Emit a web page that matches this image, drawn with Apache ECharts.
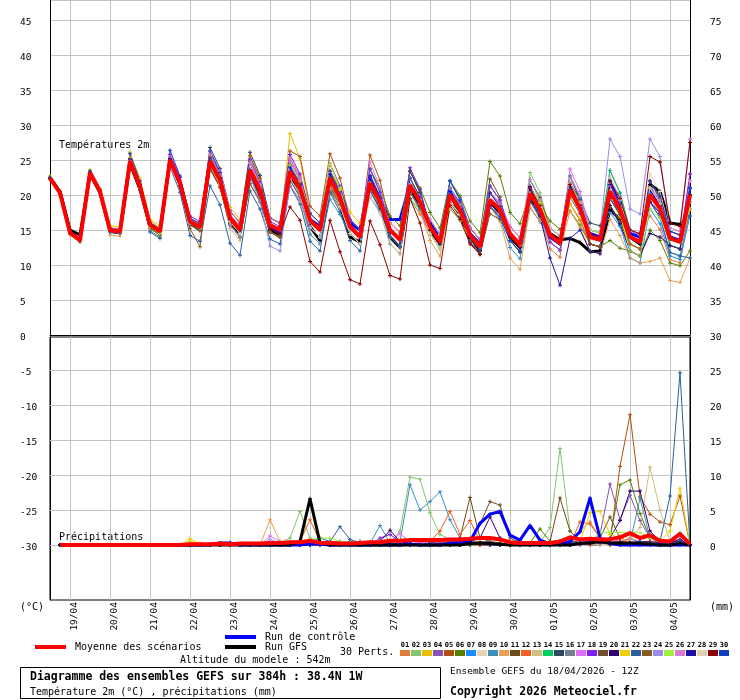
<!DOCTYPE html>
<html><head><meta charset="utf-8">
<script src="https://cdn.jsdelivr.net/npm/echarts@6/dist/echarts.min.js"></script>
<style>html,body{margin:0;padding:0;background:#fff}#c{width:740px;height:700px}</style>
</head><body><div id="c"></div>
<script>
// ---- time axis ----
const days = ['18/04','19/04','20/04','21/04','22/04','23/04','24/04','25/04','26/04','27/04','28/04','29/04','30/04','01/05','02/05','03/05','04/05'];
const hours = ['12Z','18Z','00Z','06Z'];

// ---- temperature 2m (°C), 65 steps of 6h from 18/04 12Z ----
const tMean=[22.4,20.3,14.6,13.5, 23.2,20.5,15.0,14.8, 24.8,21.2,15.7,14.8, 25.0,21.7,16.2,15.4, 24.8,22.1,16.7,15.0, 23.6,20.7,15.7,15.0, 23.3,21.0,16.4,15.0, 22.4,19.6,15.5,14.0, 21.7,19.0,15.0,13.6, 21.4,19.0,15.5,13.3, 20.0,17.9,14.3,12.6, 19.3,17.9,14.5,12.9, 20.2,17.9,14.3,13.1, 20.7,18.1,14.0,13.6, 20.5,17.9,14.0,13.3, 20.0,18.1,13.8,13.3, 20.0];
const tCtrl=[22.5,20.4,14.7,13.6, 23.3,20.6,15.1,14.9, 25.0,21.4,15.8,14.9, 25.2,21.9,16.4,15.6, 25.0,22.3,16.5,15.0, 23.0,20.5,15.5,14.5, 24.0,21.5,16.5,15.5, 23.0,20.5,16.0,15.0, 22.5,19.5,16.5,16.5, 21.5,18.5,16.0,14.0, 20.5,18.0,14.5,13.0, 19.0,17.5,14.0,12.5, 21.0,18.5,14.0,13.0, 21.5,18.5,14.5,14.0, 22.0,19.0,14.5,14.0, 21.0,18.5,14.0,13.5, 21.0];
const tGfs=[22.5,20.5,15.0,14.3, 23.0,20.3,14.8,14.6, 24.5,20.8,15.4,14.6, 25.0,21.5,16.0,15.0, 24.5,21.8,16.0,14.5, 23.0,20.0,15.0,14.0, 22.5,20.0,15.5,13.5, 21.0,18.5,14.0,13.3, 21.5,18.5,14.0,12.5, 21.0,18.5,15.0,13.0, 20.0,17.5,14.0,12.0, 19.0,17.5,14.0,12.5, 19.5,17.0,14.5,13.6, 13.8,13.2,11.9,12.0, 17.9,16.5,14.0,13.0, 21.5,20.5,16.0,15.8, 17.0];
const p01T=[22.6,20.4,14.6,13.5, 23.3,20.6,15.2,15.0, 25.1,21.4,15.5,14.6, 24.8,21.6,16.2,15.4, 25.3,22.6,17.2,15.5, 24.6,21.4,15.7,15.0, 25.3,22.7,17.4,16.0, 21.4,18.6,14.5,13.0, 21.7,19.3,16.0,14.6, 19.4,17.3,14.5,12.3, 20.0,17.9,14.3,12.6, 20.3,18.9,15.5,13.9, 19.2,16.6,12.3,11.1, 22.7,19.5,14.0,13.6, 20.5,18.2,15.0,14.3, 17.0,15.1,10.8,10.3, 18.0];
const p02T=[22.3,20.3,14.7,13.6, 23.4,20.6,15.0,14.8, 24.8,21.3,16.0,15.1, 25.5,22.2,16.7,15.9, 25.8,22.8,16.7,15.0, 23.1,20.6,16.7,16.0, 23.3,20.7,15.4,14.0, 24.4,21.0,15.5,14.0, 22.7,19.7,15.0,13.6, 21.4,19.3,16.5,14.3, 19.0,16.9,13.3,11.6, 21.3,19.3,14.5,12.9, 23.2,20.3,15.3,14.1, 18.7,16.5,13.0,12.6, 21.5,18.6,14.0,13.3, 20.0,18.4,14.8,14.3, 21.0];
const p03T=[22.7,20.6,14.6,13.5, 23.6,20.9,15.6,15.4, 26.1,22.4,16.5,15.6, 25.4,22.1,16.7,15.9, 25.6,23.1,18.2,16.5, 25.6,22.1,15.7,15.0, 28.8,25.2,17.4,16.0, 23.4,20.9,17.5,16.0, 20.7,18.0,14.0,12.6, 23.4,20.4,15.5,13.3, 21.0,18.9,15.3,13.6, 18.3,16.9,13.5,11.9, 20.2,17.9,14.3,13.1, 21.7,19.1,15.0,14.6, 18.5,16.2,13.0,12.3, 22.0,19.5,13.8,13.3, 20.0];
const p04T=[22.4,20.3,14.6,13.5, 23.1,20.4,15.0,14.8, 24.9,21.3,15.9,15.0, 25.2,21.9,16.4,15.6, 25.1,22.2,16.2,14.5, 24.6,21.1,14.7,14.0, 24.8,22.4,17.4,16.0, 24.4,21.0,15.5,14.0, 21.7,19.0,15.0,13.6, 20.4,18.0,14.5,12.3, 22.0,19.6,15.3,13.6, 20.3,18.6,14.5,12.9, 18.2,16.2,13.3,12.1, 21.7,18.8,14.0,13.6, 23.5,20.3,15.0,14.3, 22.0,19.2,12.8,12.3, 21.0];
const p05T=[22.2,20.2,14.4,13.3, 23.2,20.5,15.0,14.8, 24.5,21.0,15.7,14.8, 25.5,22.1,16.5,15.7, 25.8,23.1,17.7,16.0, 25.6,22.4,16.7,16.0, 26.3,25.5,18.4,17.0, 25.9,22.4,16.5,15.0, 25.7,22.1,16.0,14.6, 23.4,20.4,15.5,13.3, 21.0,18.6,14.3,12.6, 19.3,18.2,15.5,13.9, 21.2,18.6,14.3,13.1, 22.7,19.2,13.0,12.6, 20.5,17.3,12.0,11.3, 21.0,18.8,13.8,13.3, 23.0];
const p06T=[22.4,20.3,14.6,13.5, 23.2,20.5,15.0,14.8, 24.8,21.2,15.7,14.8, 25.3,22.0,16.5,15.7, 24.8,22.1,16.7,15.0, 24.6,21.7,16.7,16.0, 23.3,21.0,16.4,15.0, 23.4,20.6,16.5,15.0, 23.7,21.0,17.0,15.6, 23.4,21.0,17.5,15.3, 22.0,19.9,16.3,14.6, 24.8,22.7,17.5,15.9, 20.2,18.5,16.3,15.1, 17.7,15.7,13.0,12.6, 13.5,12.4,12.0,11.3, 15.0,13.5,10.3,9.9, 12.0];
const p07T=[22.5,20.4,14.6,13.5, 23.4,20.7,15.2,15.0, 25.0,21.3,15.7,14.8, 25.3,21.9,16.2,15.4, 24.8,21.8,15.7,14.0, 22.6,20.0,15.7,15.0, 24.3,21.4,15.4,14.0, 22.4,19.9,16.5,15.0, 19.7,17.6,15.0,13.6, 22.4,19.4,14.5,12.3, 22.0,19.3,14.3,12.6, 19.3,18.2,15.5,13.9, 19.2,16.9,13.3,12.1, 21.7,18.8,14.0,13.6, 18.5,15.6,11.0,10.3, 18.0,15.9,11.3,10.8, 17.0];
const p08T=[22.4,20.3,14.6,13.5, 23.3,20.6,15.0,14.8, 24.6,20.9,15.2,14.3, 25.0,21.6,15.9,15.1, 23.8,21.4,16.7,15.0, 23.6,21.0,16.7,16.0, 21.3,19.0,14.4,13.0, 21.4,18.6,14.5,13.0, 22.7,19.7,15.0,13.6, 21.4,19.3,16.5,14.3, 19.0,17.2,14.3,12.6, 19.3,18.2,15.5,13.9, 22.2,19.3,14.3,13.1, 21.7,19.1,15.0,14.6, 20.5,18.2,15.0,14.3, 23.0,20.5,14.8,14.3, 22.0];
const p09T=[22.4,20.3,14.6,13.5, 23.0,20.3,14.8,14.6, 24.8,21.2,15.7,14.8, 24.7,21.4,16.0,15.2, 23.8,21.1,15.7,14.0, 21.6,19.3,15.7,15.0, 22.3,19.7,14.4,13.0, 19.4,17.2,14.5,13.0, 20.7,17.7,13.0,11.6, 21.4,19.0,15.5,13.3, 21.0,18.3,13.3,11.6, 18.3,16.6,12.5,10.9, 18.2,16.2,13.3,12.1, 19.7,17.4,14.0,13.6, 17.5,15.5,13.0,12.3, 19.0,16.8,11.8,11.3, 18.0];
const p10T=[22.6,20.4,14.4,13.3, 23.2,20.3,14.3,14.1, 24.8,21.1,15.2,14.3, 25.2,21.8,16.2,15.4, 24.8,22.1,16.7,15.0, 23.6,20.4,14.7,14.0, 24.3,21.7,16.4,15.0, 21.4,18.9,15.5,14.0, 21.7,18.7,14.0,12.6, 20.4,17.7,13.5,11.3, 19.0,16.9,13.3,11.6, 18.3,16.2,11.0,9.4, 18.2,16.2,13.3,12.1, 17.7,15.4,12.0,11.6, 16.5,14.2,11.0,10.3, 10.5,11.0,7.8,7.5, 11.0];
const p11T=[22.3,20.3,14.6,13.5, 23.2,20.5,15.0,14.8, 25.0,21.3,15.7,14.8, 24.8,21.5,15.9,15.1, 23.8,21.1,15.7,14.0, 23.6,20.4,14.7,14.0, 24.3,21.7,16.4,15.0, 21.4,19.2,16.5,15.0, 22.7,19.4,14.0,12.6, 23.4,20.4,15.5,13.3, 19.0,17.5,15.3,13.6, 22.3,19.7,13.5,11.9, 22.2,19.6,15.3,14.1, 21.7,18.8,14.0,13.6, 18.5,16.2,13.0,12.3, 20.0,18.4,14.8,14.3, 21.0];
const p12T=[22.4,20.3,14.6,13.5, 23.3,20.6,15.0,14.8, 24.8,21.3,15.9,15.0, 25.2,21.8,16.2,15.4, 25.3,22.5,16.7,15.0, 22.6,19.7,14.7,14.0, 21.3,19.3,15.4,14.0, 23.4,20.3,15.5,14.0, 21.7,19.3,16.0,14.6, 20.4,18.0,14.5,12.3, 20.0,17.9,14.3,12.6, 20.3,18.6,14.5,12.9, 19.2,17.5,15.3,14.1, 18.7,16.4,13.0,12.6, 21.5,18.6,14.0,13.3, 20.0,17.8,12.8,12.3, 18.0];
const p13T=[22.5,20.3,14.6,13.5, 23.2,20.5,15.0,14.8, 24.9,21.2,15.4,14.5, 25.0,21.8,16.4,15.6, 24.3,21.3,15.2,13.5, 24.6,21.4,15.7,15.0, 23.3,21.3,17.4,16.0, 21.4,18.9,15.5,14.0, 20.7,17.7,13.0,11.6, 22.4,19.7,15.5,13.3, 20.0,18.2,15.3,13.6, 18.3,17.2,14.5,12.9, 21.2,18.3,13.3,12.1, 22.7,19.8,15.0,14.6, 21.5,18.6,14.0,13.3, 19.0,17.4,13.8,13.3, 20.0];
const p14T=[22.4,20.3,14.6,13.5, 23.2,20.5,15.0,14.8, 24.5,20.8,15.2,14.3, 25.3,21.9,16.2,15.4, 24.8,22.1,16.7,15.0, 24.6,21.7,16.7,16.0, 22.3,20.3,16.4,15.0, 22.4,19.3,14.5,13.0, 23.7,20.4,15.0,13.6, 19.4,17.9,16.5,14.3, 21.0,18.6,14.3,12.6, 19.3,17.6,13.5,11.9, 22.2,19.3,14.3,13.1, 19.7,17.7,15.0,14.6, 23.5,20.3,15.0,14.3, 20.0,17.8,12.8,12.3, 21.0];
const p15T=[22.6,20.4,14.6,13.5, 23.4,20.7,15.3,15.1, 25.1,21.5,16.0,15.1, 25.5,22.1,16.5,15.7, 26.8,23.8,17.7,16.0, 26.1,22.8,16.7,16.0, 24.3,21.7,16.4,15.0, 22.4,19.3,14.5,13.0, 20.7,18.6,16.0,14.6, 23.4,20.4,15.5,13.3, 21.0,18.3,13.3,11.6, 18.3,17.2,14.5,12.9, 20.2,17.9,14.3,13.1, 21.7,19.4,16.0,15.6, 19.5,17.5,15.0,14.3, 21.0,18.8,13.8,13.3, 20.0];
const p16T=[22.4,20.3,14.6,13.5, 23.1,20.4,14.8,14.6, 24.4,20.7,14.9,14.0, 25.2,22.0,16.7,15.9, 24.3,21.9,17.2,15.5, 22.6,20.0,15.7,15.0, 23.3,20.7,15.4,14.0, 20.4,18.5,16.5,15.0, 22.7,19.7,15.0,13.6, 20.4,18.0,14.5,12.3, 18.0,16.5,14.3,12.6, 21.3,19.3,14.5,12.9, 19.2,17.5,15.3,14.1, 20.7,17.8,13.0,12.6, 22.5,19.3,14.0,13.3, 19.0,17.7,14.8,14.3, 19.0];
const p17T=[22.4,20.3,14.6,13.5, 23.3,20.7,15.3,15.1, 24.9,21.3,15.9,15.0, 25.5,22.2,16.7,15.9, 26.3,23.5,17.7,16.0, 24.6,21.7,16.7,16.0, 25.3,22.4,16.4,15.0, 23.4,20.3,15.5,14.0, 24.7,21.1,15.0,13.6, 21.4,19.3,16.5,14.3, 19.0,17.2,14.3,12.6, 20.3,18.9,15.5,13.9, 22.2,19.3,14.3,13.1, 23.7,20.5,15.0,14.6, 21.5,18.3,13.0,12.3, 19.0,17.4,13.8,13.3, 22.0];
const p18T=[22.5,20.4,14.6,13.5, 23.4,20.7,15.2,15.0, 25.3,21.7,16.2,15.3, 25.8,22.5,17.0,16.2, 25.8,22.9,17.2,15.5, 25.1,21.9,16.2,15.5, 25.8,23.0,17.4,16.0, 24.4,21.3,16.5,15.0, 23.7,20.4,15.0,13.6, 23.9,20.8,15.5,13.3, 21.0,18.9,15.3,13.6, 21.3,19.3,14.5,12.9, 20.2,17.6,13.3,12.1, 19.7,17.4,14.0,13.6, 20.5,17.9,14.0,13.3, 21.0,18.8,13.8,13.3, 23.0];
const p19T=[22.3,20.2,14.6,13.5, 23.1,20.4,14.8,14.6, 24.5,21.0,15.4,14.5, 24.7,21.4,15.7,14.9, 23.8,21.1,15.7,14.0, 21.6,19.0,14.7,14.0, 22.3,20.3,16.4,15.0, 22.4,19.3,14.5,13.0, 20.7,18.3,15.0,13.6, 22.4,19.4,14.5,12.3, 20.0,17.6,13.3,11.6, 17.3,16.5,14.5,12.9, 19.2,17.2,14.3,13.1, 20.7,17.8,13.0,12.6, 19.5,17.2,14.0,13.3, 22.0,19.5,13.8,13.3, 20.0];
const p20T=[22.4,20.3,14.6,13.5, 23.2,20.5,15.0,14.8, 25.0,21.4,15.9,15.0, 25.0,21.7,16.2,15.4, 24.8,22.1,16.7,15.0, 22.6,20.0,15.7,15.0, 22.3,20.3,16.4,15.0, 22.4,19.6,15.5,14.0, 22.7,19.4,14.0,12.6, 21.4,19.0,15.5,13.3, 19.0,16.9,13.3,11.6, 19.3,17.9,14.5,12.9, 19.2,17.2,14.3,13.1, 21.7,18.5,13.0,12.6, 18.5,15.9,12.0,11.3, 14.5,14.0,12.8,12.3, 20.0];
const p21T=[22.6,20.4,14.6,13.5, 23.5,20.8,15.2,15.0, 25.4,21.8,16.2,15.3, 25.3,22.0,16.5,15.7, 25.3,22.6,17.2,15.5, 23.6,20.7,15.7,15.0, 22.3,20.3,16.4,15.0, 24.4,20.7,14.5,13.0, 20.7,18.6,16.0,14.6, 21.4,19.0,15.5,13.3, 19.0,17.2,14.3,12.6, 19.3,17.6,13.5,11.9, 21.2,18.9,15.3,14.1, 18.7,16.7,14.0,13.6, 19.5,16.9,13.0,12.3, 21.0,18.8,13.8,13.3, 19.0];
const p22T=[22.4,20.1,14.6,13.5, 23.0,20.3,14.7,14.5, 24.3,20.6,14.7,13.8, 24.0,20.4,14.2,13.4, 21.3,18.6,13.1,11.4, 20.6,18.0,13.7,13.0, 21.3,18.7,13.4,12.0, 20.4,17.6,13.5,12.0, 21.7,18.7,14.0,12.6, 20.4,18.3,15.5,13.3, 20.0,18.2,15.3,13.6, 20.3,18.6,14.5,12.9, 20.2,18.2,15.3,14.1, 22.7,19.5,14.0,13.6, 20.5,18.2,15.0,14.3, 19.0,16.8,11.8,11.3, 11.0];
const p23T=[22.3,20.3,14.6,13.5, 23.2,20.5,14.8,14.6, 24.5,21.0,15.2,14.3, 24.5,21.2,15.2,12.6, 23.8,21.1,15.7,14.0, 22.6,19.7,14.7,14.0, 23.3,21.0,16.4,15.0, 21.4,18.6,14.5,13.0, 20.7,18.3,15.0,13.6, 21.4,19.0,15.5,13.3, 21.0,18.3,13.3,11.6, 19.3,17.9,14.5,12.9, 19.2,17.2,14.3,13.1, 21.7,18.5,13.0,12.6, 20.5,17.6,13.0,12.3, 20.0,18.4,14.8,14.3, 19.0];
const p24T=[22.4,20.3,14.6,13.5, 23.2,20.5,15.0,14.8, 24.8,21.2,15.7,14.8, 25.3,22.0,16.5,15.7, 24.8,21.8,15.7,14.0, 22.6,19.1,12.7,12.0, 21.3,19.3,15.4,14.0, 22.4,19.3,14.5,13.0, 22.7,19.7,15.0,13.6, 21.4,18.7,14.5,12.3, 21.0,18.6,14.3,12.6, 18.3,17.2,14.5,12.9, 21.2,18.6,14.3,13.1, 22.7,19.8,15.0,14.6, 28.0,25.5,18.0,17.3, 28.0,25.5,14.8,14.3, 21.0];
const p25T=[22.4,20.3,14.6,13.5, 23.2,20.5,15.0,14.8, 24.6,21.0,15.4,14.5, 24.7,21.5,16.2,15.4, 24.3,21.6,16.2,14.5, 23.6,20.7,15.7,15.0, 24.3,22.0,17.4,16.0, 24.4,21.0,15.5,14.0, 20.7,18.6,16.0,14.6, 22.4,19.4,14.5,12.3, 18.0,16.3,13.8,12.1, 19.3,17.9,14.5,12.9, 21.2,18.6,14.3,13.1, 19.7,17.7,15.0,14.6, 20.5,17.3,12.0,11.3, 18.0,16.7,13.8,13.3, 18.0];
const p26T=[22.4,20.4,14.6,13.5, 23.3,20.6,15.0,14.8, 25.0,21.3,15.7,14.8, 25.3,22.0,16.4,15.6, 25.8,23.0,17.2,15.5, 24.6,21.4,15.7,15.0, 24.8,22.1,16.4,15.0, 22.4,19.6,15.5,14.0, 21.7,19.3,16.0,14.6, 22.4,19.7,15.5,13.3, 20.0,18.2,15.3,13.6, 20.3,18.6,14.5,12.9, 20.2,18.2,15.3,14.1, 21.7,18.8,14.0,13.6, 22.5,19.6,15.0,14.3, 21.0,19.3,15.3,14.8, 28.0];
const p27T=[22.4,20.3,14.6,13.5, 23.2,20.5,15.0,14.8, 25.1,21.5,16.0,15.1, 25.2,21.8,16.2,15.4, 25.3,22.5,16.7,15.0, 23.6,20.7,15.7,15.0, 22.3,20.0,15.4,14.0, 22.4,19.6,15.5,14.0, 22.7,19.7,15.0,13.6, 21.4,19.0,15.5,13.3, 20.0,17.8,13.8,12.1, 20.3,18.3,13.5,11.9, 21.2,17.0,11.0,7.1, 13.8,15.0,12.0,11.6, 21.5,18.6,14.0,13.3, 19.0,17.4,13.8,13.3, 21.0];
const p28T=[22.4,20.3,14.6,13.5, 23.2,20.5,15.0,14.8, 24.8,21.2,15.5,14.6, 24.8,21.5,16.0,15.2, 24.3,21.6,16.2,14.5, 23.6,20.7,15.7,15.0, 22.3,20.0,15.4,14.0, 20.9,18.3,14.5,13.0, 19.7,17.3,14.0,12.6, 21.4,18.7,14.5,12.3, 19.0,17.2,14.3,12.6, 19.3,17.9,14.5,12.9, 20.2,18.2,15.3,14.1, 21.7,18.8,14.0,13.6, 22.5,19.3,14.0,13.3, 21.0,18.8,13.8,13.3, 19.0];
const p29T=[22.4,20.3,14.6,13.5, 23.2,20.5,15.0,14.8, 24.8,21.2,15.7,14.8, 25.0,21.7,16.2,15.4, 24.8,22.1,16.7,15.0, 23.1,20.2,15.2,14.5, 18.3,16.4,10.5,9.0, 16.4,11.9,7.9,7.3, 16.3,12.9,8.5,8.0, 19.5,16.0,10.0,9.5, 18.5,16.5,13.0,11.5, 19.0,17.5,14.0,12.5, 21.0,18.5,14.5,13.5, 21.5,18.5,14.5,14.0, 22.0,19.5,15.0,14.5, 25.5,24.7,16.0,15.5, 27.5];
const p30T=[22.5,20.5,14.6,13.5, 23.4,20.7,15.2,15.0, 25.9,22.0,16.0,15.1, 26.4,22.7,16.7,15.9, 26.3,23.2,16.7,15.0, 23.6,20.7,15.7,15.0, 23.3,21.3,17.4,16.0, 23.4,20.3,15.5,14.0, 20.7,18.0,14.0,12.6, 22.4,19.7,15.5,13.3, 22.0,19.3,14.3,12.6, 18.3,16.9,13.5,11.9, 19.2,17.2,14.3,13.1, 20.7,18.1,14.0,13.6, 19.5,17.2,14.0,13.3, 22.0,19.8,14.8,14.3, 21.0];

// ---- precipitation (mm / 6h), 64 steps from 18/04 18Z ----
const rMean=[0,0,0,0, 0,0,0,0, 0,0,0,0, 0,.1,.1,.1, .2,.1,.2,.2, .2,.3,.3,.4, .4,.6,.3,.3, .2,.2,.3,.4, .4,.6,.6,.7, .7,.7,.7,.8, .8,.9,1,1, .8,.4,.3,.3, .3,.3,.5,1.1, .8,.9,.8,.8, 1.1,1.7,1,1.4, .6,.5,1.6,.1];
const rCtrl=[0,0,0,0, 0,0,0,0, 0,0,0,0, 0,0,0,0, .3,.3,0,0, 0,0,0,0, 0,.2,.1,0, 0,0,0,0, 0,0,0,.1, 0,0,0,.2, .3,.5,3.1,4.4, 4.8,1.4,.7,2.8, .7,.2,.1,.5, 1.9,6.7,1,.2, 0,0,0,0, 0,0,0,0];
const rGfs=[0,0,0,0, 0,0,0,0, 0,0,0,0, 0,0,0,0, 0,0,0,0, 0,0,0,0, .5,6.6,.3,0, 0,0,0,0, 0,0,0,0, 0,0,0,0, 0,.2,.3,.2, .1,0,0,0, 0,0,0,0, .2,.3,.5,.3, .2,.3,.2,.1, 0,0,.2,0];
const p01R=[0,0,0,0, 0,0,0,0, 0,0,0,0, 0,0,0,0, 0,0,0,0, 0,0,.3,0, 0,.5,0,0, 0,0,0,0, 0,0,0,0, 0,0,0,0, 0,.5,.3,0, 0,0,0,0, 0,0,.5,.5, 2,3.3,1,.3, .5,1,.3,.5, .3,0,.5,0];
const p02R=[0,0,0,0, 0,0,0,0, 0,0,0,0, 0,0,0,0, 0,0,0,0, 0,0,.3,1, 4.8,1,.3,.2, .2,0,.2,.5, .5,.3,2,9.7, 9.4,4.6,1.5,.8, .5,.3,0,.2, 0,0,.2,0, .3,2.5,13.8,2, .5,.3,.2,.5, .5,1,.5,.3, .3,.5,1.8,0];
const p03R=[0,0,0,0, 0,0,0,0, 0,0,0,0, 0,.5,.2,0, 0,0,0,0, 0,.2,0,0, 0,0,0,0, 0,0,0,0, 0,0,0,0, 0,0,0,0, .2,0,0,0, 0,0,0,0, 0,0,0,0, 0,.5,.3,0, .3,.5,.3,0, 0,.3,.5,0];
const p04R=[0,0,0,0, 0,0,0,0, 0,0,0,0, 0,0,0,0, 0,0,0,0, 0,0,0,0, 0,0,0,0, 0,0,0,0, 0,.3,0,0, 0,0,0,0, 0,.3,.5,.5, 0,0,0,0, 0,0,0,0, 0,.5,1.5,8.7, 3.6,7.1,3.5,1, .3,.5,.8,0];
const p05R=[0,0,0,0, 0,0,0,0, 0,0,0,0, 0,0,0,0, 0,0,0,0, 0,0,0,0, 0,.2,0,0, 0,0,0,0, 0,0,0,0, 0,0,0,0, 0,.3,0,0, 0,0,0,0, 0,0,0,0, .2,0,0,.5, 11.2,18.6,6.9,4.4, 3.3,2.9,7,0];
const p06R=[0,0,0,0, 0,0,0,0, 0,0,0,0, 0,0,0,0, 0,0,0,0, 0,0,0,0, 0,.3,0,0, 0,0,0,0, 0,0,0,0, 0,0,0,0, 0,0,0,0, 0,0,0,.3, 2.3,.5,.5,0, 0,.3,.5,1, 8.6,9.3,4.5,1, .5,.3,.5,0];
const p07R=[0,0,0,0, 0,0,0,0, 0,0,0,0, 0,0,0,0, 0,.2,0,0, 0,0,0,0, 0,0,0,0, 0,0,0,0, 0,0,0,0, 0,0,0,0, .3,.5,0,0, 0,0,0,0, 0,0,0,0, 0,.3,.5,.3, .5,.3,.3,.5, .3,.3,.5,0];
const p08R=[0,0,0,0, 0,0,0,0, 0,0,0,0, 0,0,0,0, 0,0,0,0, 0,0,0,0, .3,.5,.2,0, 0,0,0,0, .5,.3,0,0, 0,0,0,0, 0,.2,.5,0, 0,0,0,0, 0,0,0,0, .3,.5,0,0, .3,.5,.3,.5, 0,.3,.3,0];
const p09R=[0,0,0,0, 0,0,0,0, 0,0,0,0, 0,0,0,0, 0,0,0,0, 0,0,0,0, 0,.5,.2,.3, .5,.2,0,.2, 2.8,.3,.5,8.6, 5,6.2,7.6,3.6, 1,.3,.5,0, 0,0,0,0, 0,.3,.5,.2, .3,.5,.3,.5, .5,.3,6.7,1, .5,.3,.5,0];
const p10R=[0,0,0,0, 0,0,0,0, 0,0,0,0, 0,0,0,0, 0,0,0,0, 0,3.6,.5,0, 0,.3,0,0, 0,0,0,0, 0,0,0,0, 0,0,0,0, 0,.3,0,0, 0,0,0,0, 0,0,0,0, 0,.5,.3,0, .3,.5,.5,.3, .3,.3,.5,0];
const p11R=[0,0,0,0, 0,0,0,0, 0,0,0,0, 0,0,0,0, 0,0,0,0, 0,0,0,0, 0,.3,0,0, 0,0,0,0, 0,0,0,0, 0,0,.3,.5, 1,6.8,1,.5, .3,0,.2,.3, .3,.5,6.7,2, .5,.3,.5,.3, .3,.5,.3,.5, .3,0,.3,0];
const p12R=[0,0,0,0, 0,0,0,0, 0,0,0,0, 0,0,0,0, 0,0,0,0, 0,0,0,0, .5,3.6,.5,0, 0,0,0,0, 0,0,0,0, .3,.5,2,4.8, 1.5,3.5,.5,0, 0,0,0,0, 0,0,0,0, 3.3,3,1,.5, .5,.3,.5,.3, 0,.3,.5,0];
const p13R=[0,0,0,0, 0,0,0,0, 0,0,0,0, 0,0,0,0, 0,0,0,0, 0,0,0,0, 0,.3,.2,0, 0,0,0,0, 0,.3,0,0, 0,0,0,0, 0,.3,.5,.3, 0,0,0,0, 0,0,0,0, .3,.5,.3,.5, .5,1,2.5,11.1, 5,.5,.5,0];
const p14R=[0,0,0,0, 0,0,0,0, 0,0,0,0, 0,0,0,0, 0,0,0,0, 0,0,0,0, 0,.3,0,0, 0,0,0,0, 0,0,.3,.3, 0,0,0,0, 0,.3,.3,0, 0,0,0,0, 0,0,.3,.5, .3,.3,.5,.3, .3,.5,.3,.3, .3,.5,.3,0];
const p15R=[0,0,0,0, 0,0,0,0, 0,0,0,0, 0,0,0,0, 0,0,0,0, 0,0,0,0, 0,.2,0,0, 0,0,0,0, 0,.2,.3,0, 0,0,0,0, .3,0,.2,.3, 0,0,0,0, 0,.3,.2,0, .2,.3,.5,.2, .5,.3,.5,.3, .2,0,.5,0];
const p16R=[0,0,0,0, 0,0,0,0, 0,0,0,0, 0,0,0,0, 0,0,0,0, 0,0,0,0, .2,.3,.3,.5, .3,.5,.2,0, 0,0,0,0, 0,0,0,0, .2,.3,0,0, 0,0,0,0, 0,0,0,0, .3,.2,0,.5, .5,.3,.5,.2, .3,.3,.2,0];
const p17R=[0,0,0,0, 0,0,0,0, 0,0,0,0, 0,0,0,0, 0,0,0,0, 0,1.3,.5,.3, .3,.5,.2,.2, 0,0,0,0, .3,.5,1.6,.5, .3,.5,.3,.3, .2,.3,.5,.3, 0,0,0,0, 0,0,0,0, 0,.3,.5,.3, .5,.8,.5,.5, .3,.5,.5,0];
const p18R=[0,0,0,0, 0,0,0,0, 0,0,0,0, 0,0,0,0, 0,0,0,0, 0,0,0,0, 0,.2,0,0, 0,0,0,0, 1,1.5,.5,.3, 0,.3,.5,.3, .2,.5,.3,.3, 0,0,0,0, 0,0,0,0, .3,.5,.2,.3, .3,.5,.3,.5, .3,.3,.5,0];
const p19R=[0,0,0,0, 0,0,0,0, 0,0,0,0, 0,0,0,0, 0,0,0,0, 0,0,0,0, 0,0,0,0, 0,0,0,0, 0,0,0,0, 0,.3,.2,.5, .5,.5,3,6.2, 5.7,1,.3,.2, 0,.3,.5,.5, .5,.3,1,4, 1,.5,.3,.5, .3,0,.3,0];
const p20R=[0,0,0,0, 0,0,0,0, 0,0,0,0, 0,0,0,0, 0,0,0,0, 0,0,0,0, 0,0,0,0, 0,.3,.5,.3, .5,2.1,.5,.2, 0,0,0,0, .3,.5,1,4, 1,.3,0,.2, 0,0,0,0, .3,.3,.5,1, 3.5,7.7,7.7,2, .5,.3,.8,0];
const p21R=[0,0,0,0, 0,0,0,0, 0,0,0,0, 0,.9,.2,0, 0,0,0,0, 0,.3,.3,0, .3,.5,0,0, 0,0,0,0, 0,0,0,0, 0,0,0,0, 0,.3,.5,0, 0,0,0,0, 0,0,0,0, .5,4.6,4.8,1.5, 1,.5,.3,.5, .5,2,8.1,0];
const p22R=[0,0,0,0, 0,0,0,0, 0,0,0,0, 0,0,0,0, 0,0,0,0, 0,0,0,0, 0,.3,1,.5, 2.6,.8,.3,.2, .3,.2,0,0, 0,0,0,0, 0,.3,.3,0, 0,0,0,0, 0,0,0,0, .3,.5,.3,.5, .5,.3,.5,.3, .5,7,24.6,0];
const p23R=[0,0,0,0, 0,0,0,0, 0,0,0,0, 0,0,0,0, 0,0,0,0, 0,0,0,0, 0,.3,0,0, 0,0,0,0, 0,0,0,0, 0,0,0,0, 0,.2,.3,0, 0,0,0,0, 0,0,0,0, .3,.5,.3,0, .5,.3,.5,.3, .3,.3,.3,0];
const p24R=[0,0,0,0, 0,0,0,0, 0,0,0,0, 0,0,0,0, 0,0,0,0, 0,.8,.3,0, 0,.3,.2,0, 0,0,0,0, 0,0,0,0, 0,0,0,0, 0,.3,.3,0, 0,0,0,0, 0,0,0,0, .3,.5,.3,.5, .3,.5,.3,.5, .3,.3,.3,0];
const p25R=[0,0,0,0, 0,0,0,0, 0,0,0,0, 0,0,0,0, 0,0,0,0, 0,0,0,0, .3,.8,1,1, .5,.3,0,0, 0,0,0,0, 0,0,0,0, 0,.3,.3,0, 0,0,0,0, 0,0,0,0, .3,.5,1.8,1.8, 1.8,1.8,1.8,1, .5,.3,.5,0];
const p26R=[0,0,0,0, 0,0,0,0, 0,0,0,0, 0,0,0,0, 0,0,0,0, 0,0,0,0, 0,.3,0,0, 0,0,0,0, .3,.5,.3,0, 0,0,0,0, 0,.3,.3,0, 0,0,0,0, 0,0,0,0, .5,.8,1,1, .5,.3,.5,.3, .3,.3,.5,0];
const p27R=[0,0,0,0, 0,0,0,0, 0,0,0,0, 0,0,0,0, 0,0,0,0, 0,0,0,0, 0,.2,0,0, 0,0,0,0, 0,0,0,0, 0,0,0,0, 0,.3,.3,0, 0,0,0,0, 0,.3,.5,.3, .3,.5,.3,.2, .3,.3,.2,.3, .2,.3,.3,0];
const p28R=[0,0,0,0, 0,0,0,0, 0,0,0,0, 0,0,0,0, 0,0,0,0, 0,0,0,0, 0,.3,0,0, 0,0,0,0, 0,0,0,0, 0,0,0,0, 0,.3,0,0, 0,0,0,0, 0,0,0,0, .3,.3,0,.2, .3,.5,.3,.3, .2,.3,.3,0];
const p29R=[0,0,0,0, 0,0,0,0, 0,0,0,0, 0,0,0,0, 0,0,0,0, 0,0,0,0, .3,.5,.3,.3, .2,0,0,0, 0,0,0,0, 0,0,0,0, 0,.3,0,0, 0,0,0,0, 0,0,0,0, .3,.3,.5,.3, .5,.3,.5,.5, .3,.5,.5,0];
const p30R=[0,0,0,0, 0,0,0,0, 0,0,0,0, 0,0,0,0, .2,.2,0,0, 0,0,0,0, 0,.3,0,0, 0,0,0,0, 0,0,0,0, 0,0,0,0, 0,.3,.3,0, 0,0,0,0, 0,0,0,0, .3,.5,.3,.3, .3,.3,.5,.3, .3,.3,.5,0];

const pertColors=['#e07b39','#86c46c','#e8c000','#8b52b0','#b05010','#5a8000','#1a8cff','#e8d4b0','#3a8fc0','#e8a050','#6b4c1a','#f06020','#d0c080','#00d060','#2a4a60','#708090','#e070f0','#8020f0','#705030','#300070','#f0d000','#2a60a0','#8b5a20','#9b8ee8','#a0f040','#d878d8','#2010a0','#e0d0b0','#8b0000','#1040c0'];
const pertNames=['01','02','03','04','05','06','07','08','09','10','11','12','13','14','15','16','17','18','19','20','21','22','23','24','25','26','27','28','29','30'];
const tempTicks=[0,5,10,15,20,25,30,35,40,45];
const rainTicks=[0,5,10,15,20,25];

const pertT=[p01T,p02T,p03T,p04T,p05T,p06T,p07T,p08T,p09T,p10T,p11T,p12T,p13T,p14T,p15T,p16T,p17T,p18T,p19T,p20T,p21T,p22T,p23T,p24T,p25T,p26T,p27T,p28T,p29T,p30T];
const pertR=[p01R,p02R,p03R,p04R,p05R,p06R,p07R,p08R,p09R,p10R,p11R,p12R,p13R,p14R,p15R,p16R,p17R,p18R,p19R,p20R,p21R,p22R,p23R,p24R,p25R,p26R,p27R,p28R,p29R,p30R];

const cats=[];
for(let t=0;t<65;t++){cats.push(days[Math.floor((t+2)/4)]+' '+hours[t%4]);}
const midnight=(i)=>i%4===2;

const FONT='"DejaVu Sans Mono", monospace';
const GRIDC='#c4c4c4';
const PX=7; // px per unit (used for panel extents)
const topMax=335/PX, botMin=-55/PX, botMax=208/PX;
const plus='path://M0,1.5H4V2.5H0ZM1.5,0H2.5V4H1.5Z';

function mk(data,color,width,xi,yi,sym,z){
  return {type:'line',data:data,xAxisIndex:xi,yAxisIndex:yi,symbol:sym?plus:'none',symbolSize:sym?4:0,
    showSymbol:!!sym,showAllSymbol:true,lineStyle:{color:color,width:width},itemStyle:{color:color},
    silent:true,animation:false,z:z,connectNulls:false};
}
const series=[];
// temperature panel: control and GFS below the perturbations, mean on top
series.push(mk(tCtrl,'#0000ff',3,0,0,true,2));
series.push(mk(tGfs,'#000000',3,0,0,true,2));
pertT.forEach((d,i)=>series.push(mk(d,pertColors[i],1,0,0,true,2)));
series.push(mk(tMean,'#ff0000',4,0,0,false,4));
// precipitation panel
pertR.forEach((d,i)=>series.push(mk([null].concat(d),pertColors[i],1,1,2,true,2)));
series.push(mk([null].concat(rCtrl),'#0000ff',3,1,2,true,3));
series.push(mk([null].concat(rGfs),'#000000',3,1,2,true,3));
series.push(mk([null].concat(rMean),'#ff0000',4,1,2,false,4));
// horizontal grid lines of the lower panel
series.push({type:'line',xAxisIndex:1,yAxisIndex:2,data:cats.map(()=>null),silent:true,animation:false,z:1,
  markLine:{silent:true,symbol:'none',z:1,animation:false,label:{show:false},
    lineStyle:{color:GRIDC,type:'solid',width:1},data:rainTicks.map(v=>({yAxis:v}))}});

const lab={fontFamily:FONT,fontSize:9.5,color:'#000',verticalAlign:'top',lineHeight:6};
const graphic=[];
function txt(s,x,y,size,bold,align){graphic.push({type:'text',x:x,y:y,silent:true,style:{text:s,fill:'#000',
  font:(bold?'bold ':'')+size+'px '+FONT,textAlign:align||'left',textVerticalAlign:'middle',align:align||'left',verticalAlign:'middle'}});}
function rect(x,y,w,h,fill){graphic.push({type:'rect',silent:true,shape:{x:x,y:y,width:w,height:h},style:{fill:fill}});}
txt('Températures 2m',59,145,10);
txt('Précipitations',59,537,10);
txt('(°C)',20,607,10);
txt('(mm)',710,607,10);
rect(35,645,31,4,'#ff0000'); txt('Moyenne des scénarios',75,647,10);
rect(225,635,31,4,'#0000ff'); txt('Run de contrôle',265,637,10);
rect(225,645,31,4,'#000000'); txt('Run GFS',265,647,10);
txt('Altitude du modele : 542m',180,660,10);
txt('30 Perts.',340,652,10);
pertColors.forEach((c,i)=>{rect(400+11*i,650,10,6,c); txt(pertNames[i],405+11*i,645,7,true,'center');});
graphic.push({type:'rect',silent:true,shape:{x:20.5,y:667.5,width:420,height:31},style:{fill:'none',stroke:'#000',lineWidth:1}});
txt('Diagramme des ensembles GEFS sur 384h : 38.4N 1W',30,677,11.5,true);
txt('Température 2m (°C) , précipitations (mm)',30,692,10);
txt('Ensemble GEFS du 18/04/2026 - 12Z',450,672,9.5);
txt('Copyright 2026 Meteociel.fr',450,692,11.5,true);

const axLine={show:true,lineStyle:{color:'#000',width:1}};
const xlab={fontFamily:FONT,fontSize:9.5,color:'#000'};
const option={
  backgroundColor:'#fff',animation:false,
  grid:[{left:50,width:640,top:0,height:335},
        {left:50,width:640,top:337,height:263,show:true,borderColor:'#000',borderWidth:1,backgroundColor:'transparent'}],
  xAxis:[
    {gridIndex:0,type:'category',data:cats,boundaryGap:false,axisLine:axLine,axisTick:{show:false},axisLabel:{show:false},
     splitLine:{show:true,interval:midnight,lineStyle:{color:GRIDC,width:1}}},
    {gridIndex:1,type:'category',data:cats,boundaryGap:false,axisLine:axLine,axisTick:{show:false},
     axisLabel:Object.assign({show:true,interval:midnight,rotate:90,margin:2,verticalAlign:'top',formatter:(v)=>v.split(' ')[0]},xlab),
     splitLine:{show:true,interval:midnight,lineStyle:{color:GRIDC,width:1}}}
  ],
  yAxis:[
    {gridIndex:0,type:'value',position:'left',min:0,max:topMax,interval:5,axisLine:axLine,axisTick:{show:false},
     axisLabel:Object.assign({align:'left',margin:30,showMaxLabel:false,
       formatter:(v)=>tempTicks.indexOf(Math.round(v*1000)/1000)>=0?String(v):''},lab),
     splitLine:{show:true,lineStyle:{color:GRIDC,width:1}}},
    {gridIndex:0,type:'value',position:'right',min:30,max:30+topMax,interval:5,axisLine:axLine,axisTick:{show:false},
     axisLabel:Object.assign({align:'left',margin:20,showMaxLabel:false,
       formatter:(v)=>tempTicks.indexOf(Math.round((v-30)*1000)/1000)>=0?String(v):''},lab),
     splitLine:{show:false}},
    {gridIndex:1,type:'value',position:'left',min:botMin,max:botMax,axisLine:axLine,axisTick:{show:false},
     axisLabel:Object.assign({align:'left',margin:30,customValues:rainTicks,
       formatter:(v)=>rainTicks.indexOf(Math.round(v*1000)/1000)>=0?String(Math.round(v)-30):''},lab),
     splitLine:{show:false}},
    {gridIndex:1,type:'value',position:'right',min:botMin,max:botMax,axisLine:axLine,axisTick:{show:false},
     axisLabel:Object.assign({align:'left',margin:20,customValues:rainTicks,
       formatter:(v)=>rainTicks.indexOf(Math.round(v*1000)/1000)>=0?String(Math.round(v)):''},lab),
     splitLine:{show:false}}
  ],
  series:series,
  graphic:graphic
};
const chart=echarts.init(document.getElementById('c'),null,{renderer:'canvas'});
chart.setOption(option);
</script>
</body></html>
